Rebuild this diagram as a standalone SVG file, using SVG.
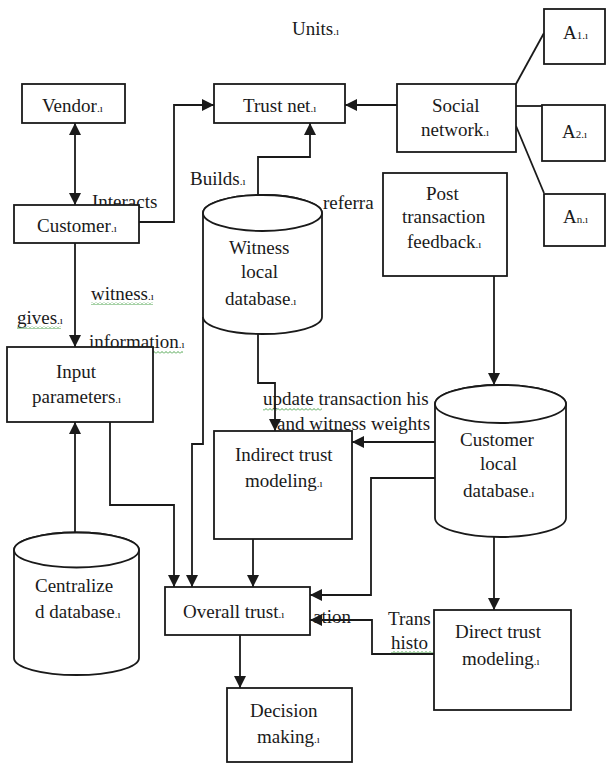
<svg xmlns="http://www.w3.org/2000/svg" width="606" height="764" viewBox="0 0 606 764">
<style>
text{font-family:"Liberation Serif","Times New Roman",serif;font-size:19px;fill:#1a1a1a}
.m{font-size:11px}
.sub{font-size:11px}
.box{fill:#fff;stroke:#1a1a1a;stroke-width:1.8}
.cyl{fill:#fff;stroke:#1a1a1a;stroke-width:1.8}
.c{fill:none;stroke:#1a1a1a;stroke-width:1.8}
.ca{fill:none;stroke:#1a1a1a;stroke-width:1.8;marker-end:url(#ah)}
.sq{fill:url(#wave)}
</style>
<defs>
<marker id="ah" viewBox="0 0 12 12" refX="12" refY="6" markerWidth="12" markerHeight="12" markerUnits="userSpaceOnUse" orient="auto">
<path d="M0,0 L12,6 L0,12 z" fill="#1a1a1a"/>
</marker>
<marker id="as" viewBox="0 0 12 12" refX="12" refY="6" markerWidth="12" markerHeight="12" markerUnits="userSpaceOnUse" orient="auto-start-reverse">
<path d="M0,0 L12,6 L0,12 z" fill="#1a1a1a"/>
</marker>
<pattern id="wave" width="4" height="3" patternUnits="userSpaceOnUse">
<path d="M0,2.5 L2,0.5 L4,2.5" fill="none" stroke="#3a9a3a" stroke-width="0.9"/>
</pattern>
</defs>

<g id="labels">
<text x="292" y="35">Units<tspan class="m">.ı</tspan></text>
<text x="92" y="208">Interacts</text>
<text x="190" y="185">Builds<tspan class="m">.ı</tspan></text>
<text x="323" y="209">referra</text>
<text x="91" y="300">witness<tspan class="m">.ı</tspan></text>
<text x="17" y="324">gives<tspan class="m">.ı</tspan></text>
<text x="89" y="348">information<tspan class="m">.ı</tspan></text>
<text x="263" y="405">update transaction his</text>
<text x="277" y="430">and witness weights</text>
<text x="313" y="623">ation</text>
<text x="388" y="625">Trans</text>
<text x="391" y="649">histo</text>
<rect class="sq" x="91" y="302" width="62" height="3"/>
<rect class="sq" x="17" y="326" width="44" height="3"/>
<rect class="sq" x="153" y="351" width="30" height="3"/>
<rect class="sq" x="263" y="408" width="59" height="3"/>
<rect class="sq" x="391" y="651" width="42" height="3"/>
</g>

<g id="connectors">
<path class="c" d="M75,123 L75,205" marker-start="url(#as)" marker-end="url(#ah)"/>
<path class="ca" d="M139,222 L174,222 L174,105 L214,105"/>
<path class="ca" d="M397,105 L345,105"/>
<path class="c" d="M516,84 L544,33"/>
<path class="c" d="M516,106 L542,106"/>
<path class="c" d="M516,126 L544,193"/>
<path class="ca" d="M258,195 L258,157 L310,157 L310,123"/>
<path class="ca" d="M75,243 L75,347"/>
<path class="ca" d="M75,533 L75,422"/>
<path class="ca" d="M494,276 L494,385"/>
<path class="ca" d="M494,530 L494,610"/>
<path class="ca" d="M435,442 L352,442"/>
<path class="ca" d="M258,334 L258,383 L275,383 L275,431"/>
<path class="ca" d="M203,317 L203,444 L192,444 L192,587"/>
<path class="ca" d="M110,422 L110,505 L174,505 L174,587"/>
<path class="ca" d="M253,539 L253,587"/>
<path class="ca" d="M435,478 L371,478 L371,595 L310,595"/>
<path class="ca" d="M434,654 L372,654 L372,620 L310,620"/>
<path class="ca" d="M240,635 L240,688"/>
</g>

<g id="vendor">
<rect class="box" x="22" y="84" width="103" height="39"/>
<text x="42" y="112">Vendor<tspan class="m">.ı</tspan></text>
</g>
<g id="trust-net">
<rect class="box" x="214" y="84" width="131" height="39"/>
<text x="243" y="112">Trust net<tspan class="m">.ı</tspan></text>
</g>
<g id="social-network">
<rect class="box" x="397" y="84" width="119" height="68"/>
<text x="432" y="112">Social</text>
<text x="421" y="136">network<tspan class="m">.ı</tspan></text>
</g>
<g id="a1">
<rect class="box" x="544" y="9" width="61" height="55"/>
<text x="563" y="39">A<tspan class="sub">1</tspan><tspan class="m">.ı</tspan></text>
</g>
<g id="a2">
<rect class="box" x="542" y="105" width="63" height="56"/>
<text x="562" y="138">A<tspan class="sub">2</tspan><tspan class="m">.ı</tspan></text>
</g>
<g id="an">
<rect class="box" x="544" y="194" width="61" height="52"/>
<text x="563" y="223">A<tspan class="sub">n</tspan><tspan class="m">.ı</tspan></text>
</g>
<g id="customer">
<rect class="box" x="14" y="205" width="125" height="38"/>
<text x="37" y="232">Customer<tspan class="m">.ı</tspan></text>
</g>
<g id="witness-db">
<path class="cyl" d="M203,213 L203,317 A59.5,17 0 0 0 322,317 L322,213 A59.5,18 0 0 0 203,213 Z"/>
<ellipse class="cyl" cx="262.5" cy="213" rx="59.5" ry="18"/>
<text x="229" y="254">Witness</text>
<text x="241" y="278">local</text>
<text x="225" y="305">database<tspan class="m">.ı</tspan></text>
</g>
<g id="post-feedback">
<rect class="box" x="383" y="173" width="124" height="103"/>
<text x="426" y="200">Post</text>
<text x="402" y="223">transaction</text>
<text x="407" y="248">feedback<tspan class="m">.ı</tspan></text>
</g>
<g id="input-parameters">
<rect class="box" x="7" y="347" width="146" height="75"/>
<text x="56" y="378">Input</text>
<text x="32" y="403">parameters<tspan class="m">.ı</tspan></text>
</g>
<g id="customer-db">
<path class="cyl" d="M435,404 L435,518 A65.5,19 0 0 0 566,518 L566,404 A65.5,19 0 0 0 435,404 Z"/>
<ellipse class="cyl" cx="500.5" cy="404" rx="65.5" ry="19"/>
<text x="460" y="446">Customer</text>
<text x="480" y="470">local</text>
<text x="463" y="497">database<tspan class="m">.ı</tspan></text>
</g>
<g id="indirect-trust">
<rect class="box" x="214" y="431" width="138" height="108"/>
<text x="235" y="461">Indirect trust</text>
<text x="245" y="487">modeling<tspan class="m">.ı</tspan></text>
</g>
<g id="centralized-db">
<path class="cyl" d="M14,550 L14,658 A62.5,17 0 0 0 139,658 L139,550 A62.5,17.5 0 0 0 14,550 Z"/>
<ellipse class="cyl" cx="76.5" cy="550" rx="62.5" ry="17.5"/>
<text x="35" y="592">Centralize</text>
<text x="35" y="618">d database<tspan class="m">.ı</tspan></text>
</g>
<g id="overall-trust">
<rect class="box" x="165" y="587" width="145" height="48"/>
<text x="183" y="618">Overall trust<tspan class="m">.ı</tspan></text>
</g>
<g id="direct-trust">
<rect class="box" x="434" y="610" width="137" height="100"/>
<text x="455" y="638">Direct trust</text>
<text x="462" y="665">modeling<tspan class="m">.ı</tspan></text>
</g>
<g id="decision-making">
<rect class="box" x="227" y="688" width="125" height="74"/>
<text x="250" y="717">Decision</text>
<text x="257" y="743">making<tspan class="m">.ı</tspan></text>
</g>
</svg>
